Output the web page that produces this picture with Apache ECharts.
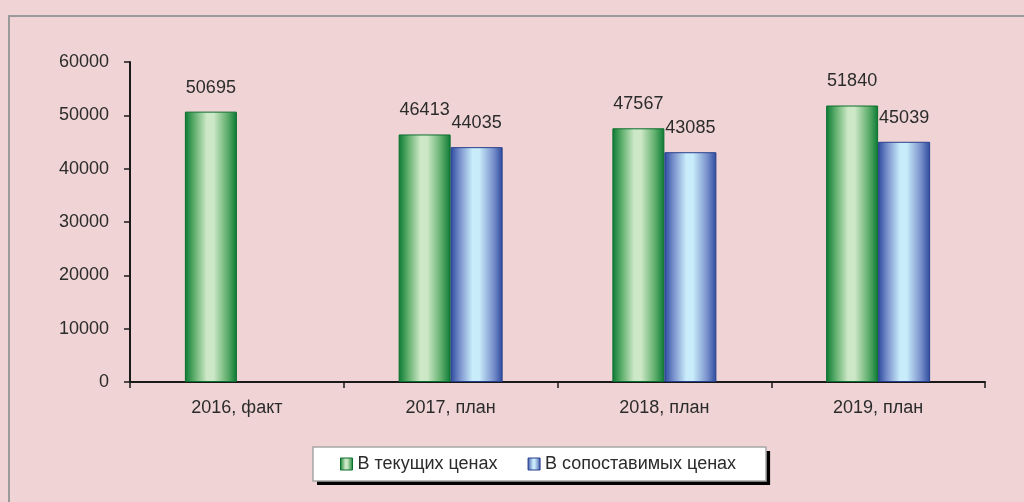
<!DOCTYPE html>
<html>
<head>
<meta charset="utf-8">
<script src="https://cdn.jsdelivr.net/npm/echarts@6/dist/echarts.min.js"></script>
<style>
    html, body { margin: 0; padding: 0; background: #f0d4d5; }
    #frame {
        position: absolute; left: 8px; top: 15px; right: 0; bottom: 0;
        border-left: 2px solid #9a9a9a; border-top: 2px solid #9a9a9a;
    }
    #chart { position: absolute; left: 0; top: 0; width: 1024px; height: 502px; }
</style>
</head>
<body>
<div id="frame"></div>
<div id="chart"></div>
<script>
const categories = ['2016, факт', '2017, план', '2018, план', '2019, план'];
const currentPrices = [50695, 46413, 47567, 51840];
const comparablePrices = [null, 44035, 43085, 45039];
const seriesNames = ['В текущих ценах', 'В сопоставимых ценах'];

const fontFamily = '"Liberation Sans", Arial, sans-serif';
const textColor = '#2b2b2b';
const fontSize = 18;

function barGradient(edge, mid, center) {
    return new echarts.graphic.LinearGradient(0, 0, 1, 0, [
        { offset: 0, color: edge },
        { offset: 0.18, color: mid },
        { offset: 0.42, color: center },
        { offset: 0.55, color: center },
        { offset: 0.82, color: mid },
        { offset: 1, color: edge }
    ]);
}

const greenFill = barGradient('#0a7a34', '#5fae6c', '#cde8c7');
const blueFill = barGradient('#2c4a9e', '#7a92cc', '#c8ecfa');

const chart = echarts.init(document.getElementById('chart'));

const labelStyle = {
    show: true,
    position: 'top',
    distance: 15,
    color: textColor,
    fontSize: fontSize,
    fontFamily: fontFamily
};

chart.setOption({
    backgroundColor: 'transparent',
    animation: false,
    grid: { left: 130, right: 39, top: 62, bottom: 120 },
    legend: {
        left: 313,
        top: 447,
        itemWidth: 12,
        itemHeight: 12,
        itemGap: 30,
        padding: [8, 30, 8, 27],
        backgroundColor: '#ffffff',
        borderWidth: 0,
        shadowColor: '#000000',
        shadowBlur: 0,
        shadowOffsetX: 4,
        shadowOffsetY: 4,
        textStyle: { color: textColor, fontSize: fontSize, fontFamily: fontFamily },
        data: [
            { name: seriesNames[0], icon: 'rect', itemStyle: { color: greenFill, borderColor: '#0a6e2e', borderWidth: 1 } },
            { name: seriesNames[1], icon: 'rect', itemStyle: { color: blueFill, borderColor: '#263f8c', borderWidth: 1 } }
        ]
    },
    // gray frame of the legend box, drawn without the shadow
    graphic: [{
        type: 'rect',
        z: 100,
        silent: true,
        shape: { x: 313, y: 447, width: 453, height: 34 },
        style: { fill: 'none', stroke: '#a6a6a6', lineWidth: 1.5 }
    }],
    xAxis: {
        type: 'category',
        data: categories,
        axisLine: { lineStyle: { color: '#1a1a1a', width: 2 } },
        axisTick: { show: true, length: 6, lineStyle: { color: '#1a1a1a', width: 1.5 } },
        axisLabel: { color: textColor, fontSize: fontSize, fontFamily: fontFamily, margin: 17 }
    },
    yAxis: {
        type: 'value',
        min: 0,
        max: 60000,
        interval: 10000,
        splitLine: { show: false },
        axisLine: { show: true, lineStyle: { color: '#1a1a1a', width: 2 } },
        axisTick: { show: true, length: 6, lineStyle: { color: '#1a1a1a', width: 1.5 } },
        axisLabel: {
            color: textColor, fontSize: fontSize, fontFamily: fontFamily, margin: 21,
            formatter: value => String(value)
        }
    },
    series: [
        {
            name: seriesNames[0],
            type: 'bar',
            data: currentPrices,
            barWidth: 52,
            barGap: '0%',
            itemStyle: { color: greenFill, borderColor: '#0a6e2e', borderWidth: 1 },
            label: labelStyle
        },
        {
            name: seriesNames[1],
            type: 'bar',
            data: comparablePrices,
            barWidth: 52,
            barGap: '0%',
            itemStyle: { color: blueFill, borderColor: '#263f8c', borderWidth: 1 },
            label: labelStyle
        }
    ]
});
</script>
</body>
</html>
